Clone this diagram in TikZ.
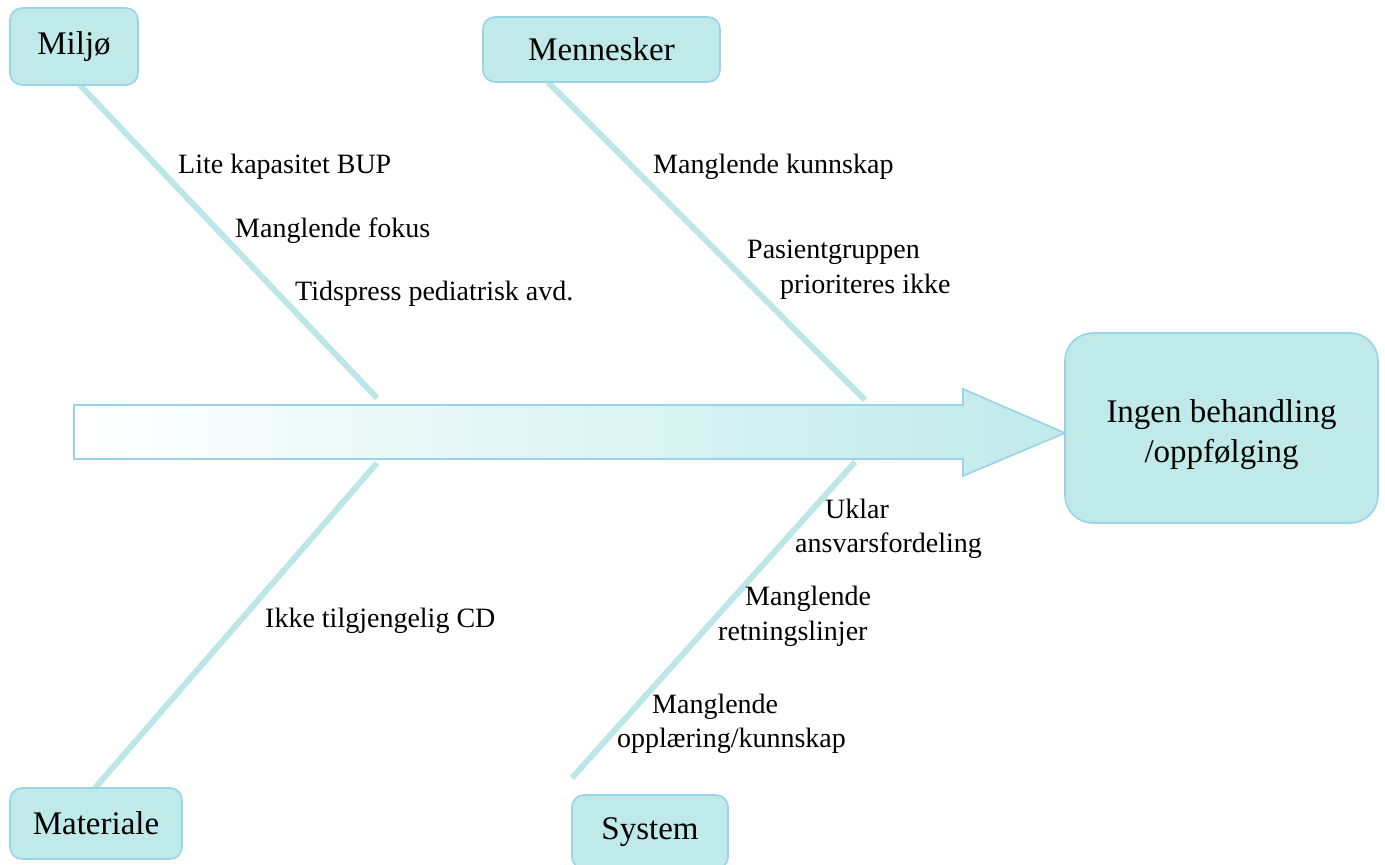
\documentclass[tikz,border=0pt]{standalone}
\usepackage{fontspec}
\setmainfont{Liberation Serif}
\definecolor{boxfill}{RGB}{192,234,234}
\definecolor{boxline}{RGB}{152,211,232}
\definecolor{bonecol}{RGB}{189,231,230}
\begin{document}
\begin{tikzpicture}[x=1pt,y=-1pt,
  every node/.style={inner sep=0pt},
  catbox/.style={draw=boxline, fill=boxfill, line width=1.6pt, rounded corners=12pt,
    font=\fontsize{33}{38}\selectfont, align=center},
  bone/.style={draw=bonecol, line width=6pt},
  cause/.style={anchor=base west, font=\fontsize{28}{34}\selectfont},
]
\useasboundingbox (0,0) rectangle (1385,865);

% fish bones: ends at the category boxes and at the spine
\coordinate (mi-root) at (80,85);    \coordinate (mi-end) at (377,398);
\coordinate (me-root) at (548,82);   \coordinate (me-end) at (865,400);
\coordinate (ma-root) at (95,788);   \coordinate (ma-end) at (377,463);
\coordinate (sy-root) at (572,778);  \coordinate (sy-end) at (855,462);
\draw[bone] (mi-root) -- (mi-end);
\draw[bone] (me-root) -- (me-end);
\draw[bone] (ma-root) -- (ma-end);
\draw[bone] (sy-root) -- (sy-end);

% spine arrow
\shadedraw[left color=white, right color=boxfill, draw=boxline, line width=1.6pt]
  (74,405) -- (963,405) -- (963,389) -- (1065,433) -- (963,476) -- (963,459) -- (74,459) -- cycle;

% category boxes
\node[catbox, minimum width=128pt, minimum height=77pt] (miljo) at (74,46.5) {Miljø};
\node[catbox, minimum width=237pt, minimum height=65pt] (mennesker) at (601.5,49.5) {Mennesker};
\node[catbox, minimum width=172pt, minimum height=71pt] (materiale) at (96,823.5) {Materiale};
\node[catbox, minimum width=156pt, minimum height=74pt] (system) at (650,832) {System};

% effect box, its two-line text set a little below the centre
\node[catbox, rounded corners=28pt, minimum width=313pt, minimum height=190pt] (effect) at (1221.5,428) {};
\node[font=\fontsize{33}{38}\selectfont, align=center, yshift=-7pt] (effect-text) at (effect.center)
  {Ingen behandling\\[2pt]/oppfølging};

% causes
\node[cause] (c1) at (178,173) {Lite kapasitet BUP};
\node[cause] (c2) at (235,237) {Manglende fokus};
\node[cause] (c3) at (295,300) {Tidspress pediatrisk avd.};
\node[cause] (c4) at (653,173) {Manglende kunnskap};
\node[cause] (c5a) at (747,258) {Pasientgruppen};
\node[cause] (c5b) at (780,293) {prioriteres ikke};
\node[cause] (c6) at (265,627) {Ikke tilgjengelig CD};
\node[cause] (c7a) at (825,518) {Uklar};
\node[cause] (c7b) at (795,552) {ansvarsfordeling};
\node[cause] (c8a) at (745,605) {Manglende};
\node[cause] (c8b) at (718,640) {retningslinjer};
\node[cause] (c9a) at (652,713) {Manglende};
\node[cause] (c9b) at (617,747) {opplæring/kunnskap};
\end{tikzpicture}
\end{document}
